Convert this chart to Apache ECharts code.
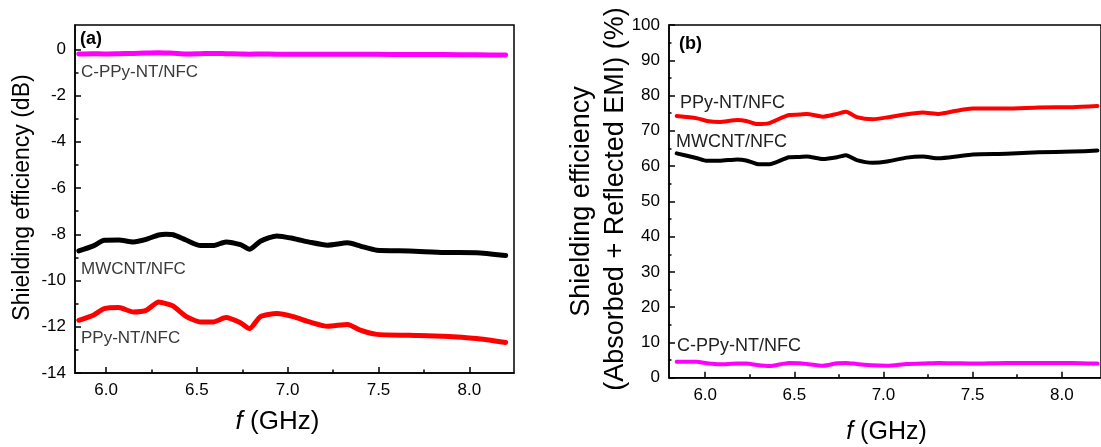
<!DOCTYPE html>
<html><head><meta charset="utf-8">
<script src="https://cdn.jsdelivr.net/npm/echarts@6/dist/echarts.min.js"></script>
<style>html,body{margin:0;padding:0;background:#fff}#c{width:1101px;height:447px}</style>
</head><body><div id="c"></div>
<script>
// ---- Panel (a): shielding efficiency (dB) ----
const freqA  = [5.85, 5.93, 5.99, 6.07, 6.15, 6.22, 6.29, 6.33, 6.37, 6.44, 6.52, 6.59, 6.66, 6.74, 6.79, 6.85, 6.94, 7.03, 7.12, 7.22, 7.33, 7.40, 7.49, 7.67, 7.86, 8.04, 8.20];
const mwcntA = [-8.72, -8.50, -8.26, -8.25, -8.33, -8.22, -8.03, -8.00, -8.02, -8.25, -8.49, -8.49, -8.33, -8.45, -8.65, -8.30, -8.07, -8.18, -8.34, -8.47, -8.37, -8.51, -8.69, -8.72, -8.79, -8.80, -8.92];
const ppyA   = [-11.72, -11.50, -11.22, -11.17, -11.36, -11.29, -10.93, -11.00, -11.11, -11.55, -11.79, -11.79, -11.60, -11.83, -12.08, -11.56, -11.43, -11.56, -11.79, -11.98, -11.90, -12.15, -12.33, -12.37, -12.41, -12.51, -12.68];
const cppyA  = [-0.20, -0.19, -0.20, -0.19, -0.18, -0.16, -0.15, -0.16, -0.17, -0.20, -0.19, -0.18, -0.19, -0.20, -0.21, -0.20, -0.21, -0.22, -0.21, -0.21, -0.22, -0.22, -0.22, -0.23, -0.23, -0.24, -0.25];

// ---- Panel (b): shielding efficiency (%) ----
const freqB  = [5.84, 5.95, 6.01, 6.08, 6.18, 6.23, 6.29, 6.36, 6.47, 6.53, 6.57, 6.66, 6.74, 6.79, 6.85, 6.94, 7.02, 7.13, 7.22, 7.31, 7.41, 7.50, 7.69, 7.87, 8.06, 8.20];
const ppyB   = [74.2, 73.6, 72.8, 72.5, 73.1, 72.8, 71.9, 72.2, 74.5, 74.6, 74.8, 74.0, 74.8, 75.4, 73.9, 73.3, 73.8, 74.7, 75.2, 74.8, 75.7, 76.3, 76.3, 76.6, 76.7, 77.0];
const mwcntB = [63.6, 62.3, 61.5, 61.5, 61.9, 61.6, 60.6, 60.5, 62.5, 62.6, 62.7, 62.0, 62.5, 63.1, 61.7, 60.96, 61.3, 62.4, 62.7, 62.2, 62.7, 63.3, 63.5, 63.9, 64.1, 64.4];
const cppyB  = [4.5, 4.5, 4.1, 3.8, 4.0, 4.0, 3.6, 3.3, 4.2, 4.1, 3.9, 3.4, 4.1, 4.2, 3.9, 3.5, 3.4, 3.9, 4.0, 4.2, 4.1, 4.0, 4.2, 4.2, 4.2, 4.0];

// ---- tick labels ----
const xTicks  = [6.0, 6.5, 7.0, 7.5, 8.0];
const xMinor  = [6.25, 6.75, 7.25, 7.75];
const yTicksA = [-14, -12, -10, -8, -6, -4, -2, 0];
const yMinorA = [-13, -11, -9, -7, -5, -3, -1];
const yTicksB = [0, 10, 20, 30, 40, 50, 60, 70, 80, 90, 100];
const yMinorB = [5, 15, 25, 35, 45, 55, 65, 75, 85, 95];

const FONT = 'Liberation Sans, Arial, sans-serif';
const zip = (xs, ys) => xs.map((x, i) => [x, ys[i]]);

// minor-tick axes sit on the opposite side and are shifted back onto the main edge
function xAxes(g, min, max, h) {
  return [
    { type: 'value', gridIndex: g, min: min, max: max, position: 'bottom',
      axisLine: { show: true, onZero: false, lineStyle: { color: '#000', width: 1.5 } },
      axisTick: { show: true, inside: true, length: 6, customValues: xTicks, lineStyle: { color: '#000', width: 1.5 } },
      axisLabel: { customValues: xTicks, formatter: v => Number(v).toFixed(1), fontSize: 17, color: '#000', fontFamily: FONT, margin: 9 },
      splitLine: { show: false } },
    { type: 'value', gridIndex: g, min: min, max: max, position: 'top', offset: -h,
      axisLine: { show: false, onZero: false },
      axisTick: { show: true, inside: false, length: 3.5, customValues: xMinor, lineStyle: { color: '#000', width: 1.5 } },
      axisLabel: { show: false }, splitLine: { show: false } }
  ];
}
function yAxes(g, min, max, major, minor, w) {
  return [
    { type: 'value', gridIndex: g, min: min, max: max, position: 'left',
      axisLine: { show: true, onZero: false, lineStyle: { color: '#000', width: 1.5 } },
      axisTick: { show: true, inside: true, length: 6, customValues: major, lineStyle: { color: '#000', width: 1.5 } },
      axisLabel: { customValues: major, formatter: v => String(v), fontSize: 17, color: '#000', fontFamily: FONT, margin: 9 },
      splitLine: { show: false } },
    { type: 'value', gridIndex: g, min: min, max: max, position: 'right', offset: -w,
      axisLine: { show: false, onZero: false },
      axisTick: { show: true, inside: false, length: 3.5, customValues: minor, lineStyle: { color: '#000', width: 1.5 } },
      axisLabel: { show: false }, splitLine: { show: false } }
  ];
}
function line(name, data, xi, yi, color, w) {
  return { name: name, type: 'line', xAxisIndex: xi, yAxisIndex: yi, data: data,
    showSymbol: false, symbol: 'none', smooth: 0.2,
    lineStyle: { color: color, width: w, join: 'round', cap: 'round' } };
}
function txt(x, y, text, size, color) {
  return { type: 'text', x: x, y: y,
    style: { text: text, fontSize: size, fontFamily: FONT, fill: color, textAlign: 'left', textVerticalAlign: 'middle' } };
}

const chart = echarts.init(document.getElementById('c'), null, { renderer: 'canvas' });
chart.setOption({
  animation: false,
  backgroundColor: '#fff',
  grid: [
    { left: 75, top: 25, width: 439, height: 348, show: true, borderColor: '#000', borderWidth: 1.5, backgroundColor: 'transparent', containLabel: false },
    { left: 669, top: 25, width: 433, height: 352.7, show: true, borderColor: '#000', borderWidth: 1.5, backgroundColor: 'transparent', containLabel: false }
  ],
  xAxis: [].concat(xAxes(0, 5.829, 8.246, 348), xAxes(1, 5.797, 8.22, 352.7)),
  yAxis: [].concat(yAxes(0, -14, 1.05, yTicksA, yMinorA, 439), yAxes(1, 0, 100, yTicksB, yMinorB, 433)),
  series: [
    line('C-PPy-NT/NFC', zip(freqA, cppyA), 0, 0, '#ff00ff', 5),
    line('MWCNT/NFC', zip(freqA, mwcntA), 0, 0, '#000000', 5),
    line('PPy-NT/NFC', zip(freqA, ppyA), 0, 0, '#ff0000', 5),
    line('PPy-NT/NFC', zip(freqB, ppyB), 2, 2, '#ff0000', 4),
    line('MWCNT/NFC', zip(freqB, mwcntB), 2, 2, '#000000', 4),
    line('C-PPy-NT/NFC', zip(freqB, cppyB), 2, 2, '#ff00ff', 4)
  ],
  graphic: [
    // panel (a)
    { type: 'text', x: 80, y: 39, style: { text: '(a)', fontSize: 18, fontWeight: 'bold', fontFamily: FONT, fill: '#000', textAlign: 'left', textVerticalAlign: 'middle' } },
    txt(81, 72, 'C-PPy-NT/NFC', 17, '#3a3a3a'),
    txt(81, 269, 'MWCNT/NFC', 17, '#3a3a3a'),
    txt(81, 338.5, 'PPy-NT/NFC', 17, '#3a3a3a'),
    { type: 'text', x: 23, y: 197.5, rotation: Math.PI / 2,
      style: { text: 'Shielding efficiency (dB)', fontSize: 23, fontFamily: FONT, fill: '#000', textAlign: 'center', textVerticalAlign: 'middle' } },
    { type: 'text', x: 277.5, y: 422,
      style: { text: '{i|f} (GHz)', fontSize: 26, fontFamily: FONT, fill: '#000', textAlign: 'center', textVerticalAlign: 'middle',
        rich: { i: { fontStyle: 'italic', fontSize: 26, fontFamily: FONT, fill: '#000' } } } },
    // panel (b)
    { type: 'text', x: 679, y: 44, style: { text: '(b)', fontSize: 18, fontWeight: 'bold', fontFamily: FONT, fill: '#000', textAlign: 'left', textVerticalAlign: 'middle' } },
    txt(680, 103, 'PPy-NT/NFC', 18, '#222'),
    txt(676, 142, 'MWCNT/NFC', 18, '#222'),
    txt(677, 346.5, 'C-PPy-NT/NFC', 18, '#222'),
    { type: 'text', x: 582, y: 201.5, rotation: Math.PI / 2,
      style: { text: 'Shielding efficiency', fontSize: 27, fontFamily: FONT, fill: '#000', textAlign: 'center', textVerticalAlign: 'middle' } },
    { type: 'text', x: 616, y: 199, rotation: Math.PI / 2,
      style: { text: '(Absorbed + Reflected EMI) (%)', fontSize: 27, fontFamily: FONT, fill: '#000', textAlign: 'center', textVerticalAlign: 'middle' } },
    { type: 'text', x: 886.5, y: 432,
      style: { text: '{i|f} (GHz)', fontSize: 25, fontFamily: FONT, fill: '#000', textAlign: 'center', textVerticalAlign: 'middle',
        rich: { i: { fontStyle: 'italic', fontSize: 25, fontFamily: FONT, fill: '#000' } } } }
  ]
});
</script>
</body></html>
